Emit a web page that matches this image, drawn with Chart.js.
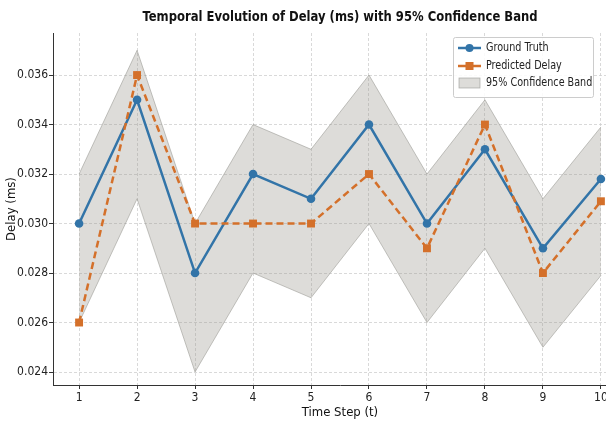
<!DOCTYPE html>
<html>
<head>
<meta charset="utf-8">
<script src="https://cdn.jsdelivr.net/npm/chart.js@4.4.1/dist/chart.umd.min.js"></script>
<style>
  html, body { margin: 0; padding: 0; background: #fff; overflow: hidden; }
  #wrap { width: 606px; height: 421px; overflow: hidden; position: relative; }
  canvas { display: block; }
</style>
</head>
<body>
<div id="wrap"><canvas id="c" width="680" height="421"></canvas></div>
<script>
const titleText = "Temporal Evolution of Delay (ms) with 95% Confidence Band";
const xTitle = "Time Step (t)";
const yTitle = "Delay (ms)";
const steps = [1, 2, 3, 4, 5, 6, 7, 8, 9, 10];
const groundTruth = [0.030, 0.035, 0.028, 0.032, 0.031, 0.034, 0.030, 0.033, 0.029, 0.0318];
const predicted = [0.026, 0.036, 0.030, 0.030, 0.030, 0.032, 0.029, 0.034, 0.028, 0.0309];
const bandUpper = [0.032, 0.037, 0.030, 0.034, 0.033, 0.036, 0.032, 0.035, 0.031, 0.0339];
const bandLower = [0.026, 0.031, 0.024, 0.028, 0.027, 0.030, 0.026, 0.029, 0.025, 0.0279];
const yTicks = [0.024, 0.026, 0.028, 0.030, 0.032, 0.034, 0.036];
const xTicks = [1, 2, 3, 4, 5, 6, 7, 8, 9, 10];
const seriesNames = ["Ground Truth", "Predicted Delay", "95% Confidence Band"];

const BLUE = '#3274a8';
const ORANGE = '#d4702a';
const BAND_FILL = 'rgba(155,152,145,0.34)';
const BAND_EDGE = 'rgba(150,150,145,0.7)';
const FONT = "'DejaVu Sans Condensed', 'DejaVu Sans', sans-serif";

const pts = (arr) => steps.map((t, i) => ({ x: t, y: arr[i] }));

const decorPlugin = {
  id: 'decor',
  afterDraw(chart) {
    const { ctx, chartArea } = chart;
    // Title, centred over the full (uncropped) axes
    ctx.save();
    ctx.fillStyle = '#111';
    ctx.font = "bold 14.5px " + FONT;
    ctx.textAlign = 'center';
    ctx.textBaseline = 'middle';
    ctx.translate((chartArea.left + chartArea.right) / 2, 17);
    ctx.scale(0.89, 1);
    ctx.fillText(titleText, 0, 0);
    ctx.restore();

    // Legend box
    const x0 = chartArea.left + 400, y0 = chartArea.top + 4, w = 140, h = 60;
    ctx.save();
    ctx.fillStyle = 'rgba(255,255,255,0.85)';
    ctx.strokeStyle = '#cccccc';
    ctx.lineWidth = 1;
    ctx.beginPath();
    ctx.roundRect(x0 + 0.5, y0 + 0.5, w, h, 2);
    ctx.fill();
    ctx.stroke();
    const rows = [y0 + 11, y0 + 29, y0 + 46];
    const lx0 = x0 + 5, lx1 = x0 + 28, mx = (lx0 + lx1) / 2;
    ctx.strokeStyle = BLUE; ctx.lineWidth = 2.5; ctx.setLineDash([]);
    ctx.beginPath(); ctx.moveTo(lx0, rows[0]); ctx.lineTo(lx1, rows[0]); ctx.stroke();
    ctx.fillStyle = BLUE; ctx.beginPath(); ctx.arc(mx, rows[0], 4, 0, Math.PI * 2); ctx.fill();
    ctx.strokeStyle = ORANGE; ctx.lineWidth = 2.5;
    ctx.beginPath(); ctx.moveTo(lx0, rows[1]); ctx.lineTo(lx1, rows[1]); ctx.stroke();
    ctx.fillStyle = ORANGE; ctx.fillRect(mx - 4, rows[1] - 4, 8, 8);
    ctx.fillStyle = BAND_FILL; ctx.fillRect(lx0 + 1, rows[2] - 5, lx1 - lx0 - 2, 10);
    ctx.strokeStyle = BAND_EDGE; ctx.lineWidth = 0.8;
    ctx.strokeRect(lx0 + 1, rows[2] - 5, lx1 - lx0 - 2, 10);
    ctx.fillStyle = '#222';
    ctx.font = "11.5px " + FONT;
    ctx.textBaseline = 'middle';
    ctx.textAlign = 'left';
    seriesNames.forEach((n, i) => {
      ctx.save();
      ctx.translate(x0 + 33, rows[i] + 0.5);
      ctx.scale(0.93, 1);
      ctx.fillText(n, 0, 0);
      ctx.restore();
    });
    ctx.restore();
  }
};

const gridOpts = {
  color: '#cfcfcf', lineWidth: 0.8,
  drawTicks: true, tickLength: 4, tickColor: '#333', tickWidth: 1, tickBorderDash: []
};

new Chart(document.getElementById('c'), {
  type: 'line',
  data: {
    datasets: [
      {
        label: seriesNames[1], data: pts(predicted),
        borderColor: ORANGE, backgroundColor: ORANGE, borderWidth: 2.5,
        borderDash: [7, 4], pointStyle: 'rect', pointRadius: 5.6,
        pointBackgroundColor: ORANGE, pointBorderWidth: 0, fill: false, tension: 0
      },
      {
        label: seriesNames[0], data: pts(groundTruth),
        borderColor: BLUE, backgroundColor: BLUE, borderWidth: 2.5,
        pointStyle: 'circle', pointRadius: 4.3, pointBackgroundColor: BLUE,
        pointBorderWidth: 0, fill: false, tension: 0
      },
      {
        label: seriesNames[2], data: pts(bandUpper),
        borderColor: BAND_EDGE, borderWidth: 0.8, backgroundColor: BAND_FILL,
        pointRadius: 0, fill: '+1', tension: 0
      },
      {
        label: 'lower', data: pts(bandLower),
        borderColor: BAND_EDGE, borderWidth: 0.8, backgroundColor: BAND_FILL,
        pointRadius: 0, fill: false, tension: 0
      }
    ]
  },
  options: {
    responsive: false,
    animation: false,
    devicePixelRatio: 1,
    layout: { padding: { left: 0, right: 53, top: 33, bottom: 0 } },
    plugins: {
      legend: { display: false },
      tooltip: { enabled: false },
      title: { display: false }
    },
    scales: {
      x: {
        type: 'linear', min: 0.55, max: 10.45,
        afterBuildTicks: (s) => { s.ticks = xTicks.map(v => ({ value: v })); },
        afterFit: (s) => { s.height = 36; },
        ticks: { color: '#222', font: { family: FONT, size: 12 }, padding: 2,
                 callback: (v) => String(v), maxRotation: 0, autoSkip: false },
        grid: gridOpts,
        border: { display: true, color: '#333', width: 1, dash: [3, 2] },
        title: { display: true, text: xTitle, color: '#111',
                 font: { family: FONT, size: 13 }, padding: { top: 0, bottom: 1 } }
      },
      y: {
        type: 'linear', min: 0.023475, max: 0.0377,
        afterBuildTicks: (s) => { s.ticks = yTicks.map(v => ({ value: v })); },
        afterFit: (s) => { s.width = 53; },
        ticks: { color: '#222', font: { family: FONT, size: 12 }, padding: 1,
                 callback: (v) => Number(v).toFixed(3), autoSkip: false },
        grid: gridOpts,
        border: { display: true, color: '#333', width: 1, dash: [3, 2] },
        title: { display: true, text: yTitle, color: '#111',
                 font: { family: FONT, size: 13 }, padding: { top: 4, bottom: 0 } }
      }
    }
  },
  plugins: [decorPlugin]
});
</script>
</body>
</html>
